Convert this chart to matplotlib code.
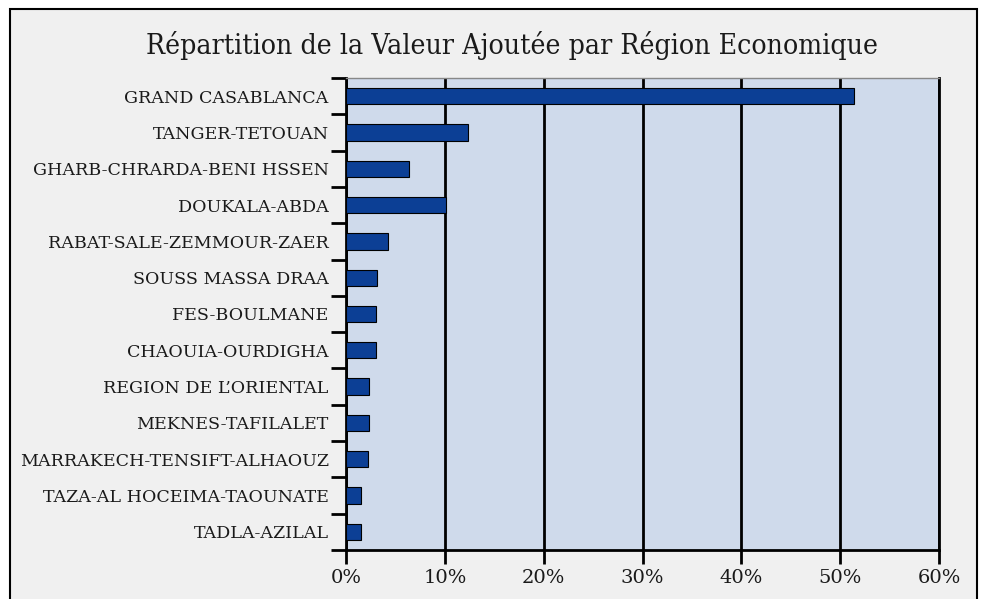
import matplotlib.pyplot as plt
from matplotlib.patches import Rectangle
from matplotlib.ticker import FixedLocator, PercentFormatter

# Régions économiques (de haut en bas)
regions = [
    "GRAND CASABLANCA",
    "TANGER-TETOUAN",
    "GHARB-CHRARDA-BENI HSSEN",
    "DOUKALA-ABDA",
    "RABAT-SALE-ZEMMOUR-ZAER",
    "SOUSS MASSA DRAA",
    "FES-BOULMANE",
    "CHAOUIA-OURDIGHA",
    "REGION DE L\u2019ORIENTAL",
    "MEKNES-TAFILALET",
    "MARRAKECH-TENSIFT-ALHAOUZ",
    "TAZA-AL HOCEIMA-TAOUNATE",
    "TADLA-AZILAL",
]

# Part de la valeur ajoutée (%)
valeurs = [51.4, 12.3, 6.4, 10.1, 4.3, 3.1, 3.0, 3.0, 2.3, 2.3, 2.2, 1.5, 1.5]

x_ticks = [0, 10, 20, 30, 40, 50, 60]

fig = plt.figure(figsize=(9.81, 5.99), dpi=100, facecolor="white")

# cadre gris clair autour du graphique
fig.patches.append(Rectangle((10 / 981, -0.05), 967 / 981, 1.05 - 9 / 599,
                             transform=fig.transFigure, facecolor="#f0f0f0",
                             edgecolor="black", linewidth=1.5, zorder=-1))

ax = fig.add_axes([346 / 981, 49 / 599, 593 / 981, 472 / 599])
ax.set_facecolor("#cfdaeb")

pos = list(range(len(regions)))
ax.barh(pos, valeurs, height=0.45, color="#0c3f95", edgecolor="black",
        linewidth=0.8, zorder=3)

ax.set_xlim(0, 60)
ax.set_ylim(len(regions) - 0.5, -0.5)
ax.set_xticks(x_ticks)
ax.xaxis.set_major_formatter(PercentFormatter(decimals=0))
ax.set_yticks(pos)
ax.set_yticklabels(regions)
ax.yaxis.set_minor_locator(FixedLocator([p - 0.5 for p in pos] + [len(pos) - 0.5]))

ax.tick_params(axis="y", which="major", length=0, pad=12.5, labelsize=12.6,
               labelcolor="#1a1a1a")
ax.tick_params(axis="y", which="minor", length=11, width=2, direction="out")
ax.tick_params(axis="x", length=10, width=2, direction="out", labelsize=14,
               labelcolor="#1a1a1a")
for lab in ax.get_xticklabels() + ax.get_yticklabels():
    lab.set_family("DejaVu Serif")

ax.grid(axis="x", color="black", linewidth=2, zorder=1)
ax.set_axisbelow(True)
for s in ["left", "bottom", "right"]:
    ax.spines[s].set_linewidth(2)
ax.spines["top"].set_color("#888888")
ax.spines["top"].set_linewidth(1)

fig.text(512 / 981, 1 - 45 / 599, "Répartition de la Valeur Ajoutée par Région Economique",
         ha="center", va="center", fontsize=20.3, family="DejaVu Serif",
         fontstretch="condensed", color="#1a1a1a")

fig.savefig("out.png", dpi=100, facecolor=fig.get_facecolor())
